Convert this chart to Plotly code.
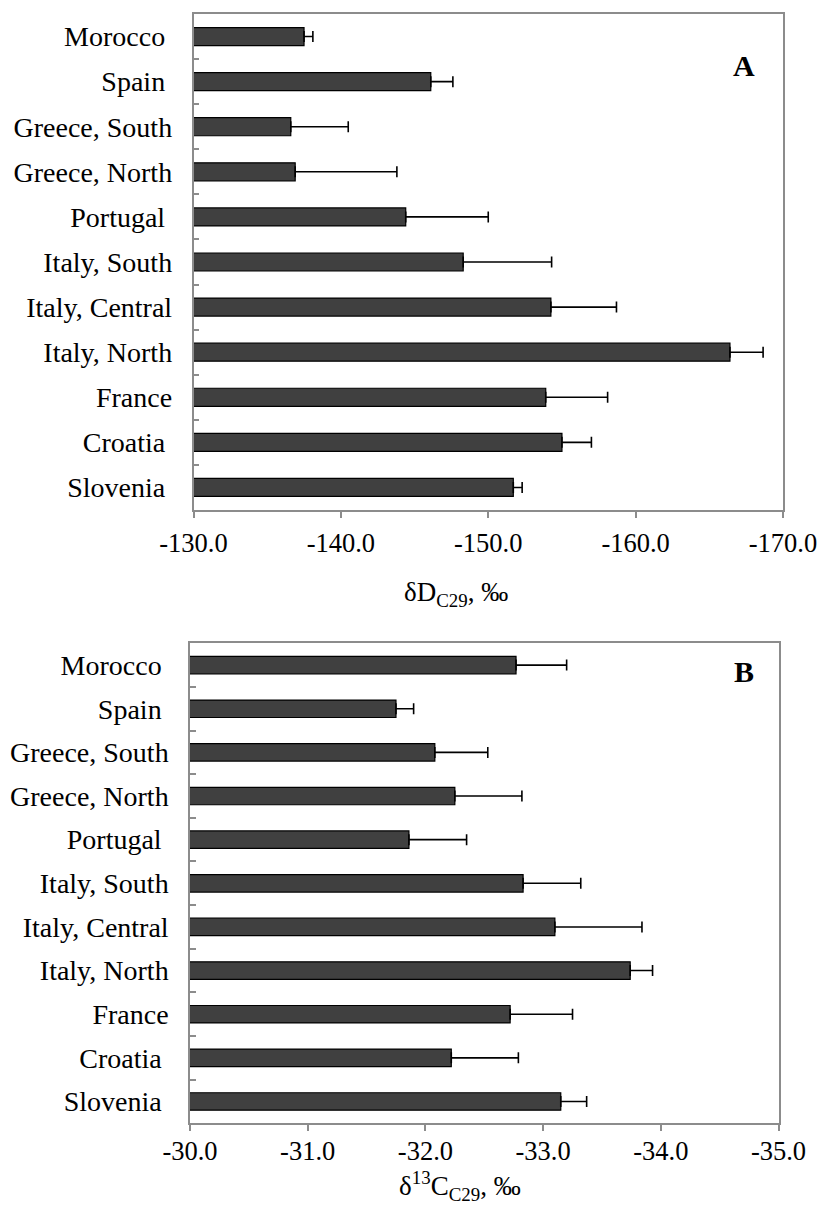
import plotly.graph_objects as go

W, H = 821, 1211

regions = ["Morocco\u00a0", "Spain\u00a0", "Greece, South", "Greece, North", "Portugal\u00a0",
           "Italy, South", "Italy, Central", "Italy, North", "France", "Croatia\u00a0", "Slovenia\u00a0"]

dD_mean = [-137.5, -146.1, -136.6, -136.9, -144.4, -148.3, -154.25, -166.4, -153.9, -155.0, -151.7]
dD_err = [0.6, 1.5, 3.9, 6.9, 5.6, 6.0, 4.45, 2.25, 4.2, 2.0, 0.6]

d13C_mean = [-32.77, -31.75, -32.08, -32.25, -31.86, -32.83, -33.10, -33.74, -32.72, -32.22, -33.15]
d13C_err = [0.43, 0.15, 0.45, 0.57, 0.49, 0.49, 0.74, 0.19, 0.53, 0.57, 0.22]

ticks_A = [-130, -140, -150, -160, -170]
ticks_A_text = ["-130.0", "-140.0", "-150.0", "-160.0", "-170.0"]
ticks_B = [-30, -31, -32, -33, -34, -35]
ticks_B_text = ["-30.0", "-31.0", "-32.0", "-33.0", "-34.0", "-35.0"]

FONT = "Liberation Serif"
GRAY = "#8c8c8c"
OFF = 0  # body margin removed by post_script below

fig = go.Figure()

def add_bars(xvals, errs, xa, ya):
    fig.add_trace(go.Bar(
        x=xvals, y=regions, orientation="h",
        marker=dict(color="#404040", line=dict(color="black", width=1.2)),
        error_x=dict(type="data", symmetric=False, array=[0] * len(errs), arrayminus=errs,
                     color="black", thickness=1.6, width=5.5),
        xaxis=xa, yaxis=ya, showlegend=False,
    ))

add_bars(dD_mean, dD_err, "x", "y")
add_bars(d13C_mean, d13C_err, "x2", "y2")

def px_x(p):
    return (p - OFF) / W

def px_y(p):
    return 1 - (p - OFF) / H

xaxis_common = dict(showline=True, linecolor=GRAY, linewidth=1.5, mirror=True,
                    showgrid=False, zeroline=False, automargin=False,
                    ticks="outside", ticklen=6, tickcolor=GRAY, tickwidth=1.5,
                    tickfont=dict(family=FONT, size=26.5, color="black"))
yaxis_common = dict(showline=True, linecolor=GRAY, linewidth=1.5, mirror=True,
                    showgrid=False, zeroline=False, automargin=False,
                    type="category", autorange="reversed", tickson="boundaries",
                    ticks="inside", ticklen=6, tickcolor=GRAY, tickwidth=1.5,
                    ticklabelstandoff=14,
                    tickfont=dict(family=FONT, size=28, color="black"))

fig.update_layout(
    width=W, height=H,
    margin=dict(l=0, r=0, t=0, b=0),
    paper_bgcolor="white", plot_bgcolor="white",
    bargap=0.6,
    font=dict(family=FONT, color="black"),
    xaxis=dict(domain=[px_x(193.5), px_x(783)], range=[-130, -170], anchor="y",
               tickvals=ticks_A, ticktext=ticks_A_text, ticklabelstandoff=2, **xaxis_common),
    yaxis=dict(domain=[px_y(510), px_y(14)], anchor="x", **yaxis_common),
    xaxis2=dict(domain=[px_x(190), px_x(778.5)], range=[-30, -35], anchor="y2",
                tickvals=ticks_B, ticktext=ticks_B_text, ticklabelstandoff=-3, **xaxis_common),
    yaxis2=dict(domain=[px_y(1123.3), px_y(643.3)], anchor="x2", **yaxis_common),
)

fig.add_annotation(text="δD<sub>C29</sub>, ‰", xref="paper", yref="paper",
                   x=px_x(456), y=px_y(594), showarrow=False,
                   font=dict(family=FONT, size=27, color="black"))
fig.add_annotation(text="δ<sup>13</sup>C<sub>C29</sub>, ‰", xref="paper", yref="paper",
                   x=px_x(460), y=px_y(1207), showarrow=False,
                   font=dict(family=FONT, size=27, color="black"))
fig.add_annotation(text="<b>A</b>", xref="paper", yref="paper",
                   x=px_x(757), y=px_y(47), showarrow=False,
                   font=dict(family=FONT, size=30, color="black"))
fig.add_annotation(text="<b>B</b>", xref="paper", yref="paper",
                   x=px_x(756), y=px_y(672), showarrow=False,
                   font=dict(family=FONT, size=30, color="black"))

fig.write_html("out.html",
               config={"displayModeBar": False},
               post_script="document.body.style.margin='0';document.body.style.overflow='hidden';")
